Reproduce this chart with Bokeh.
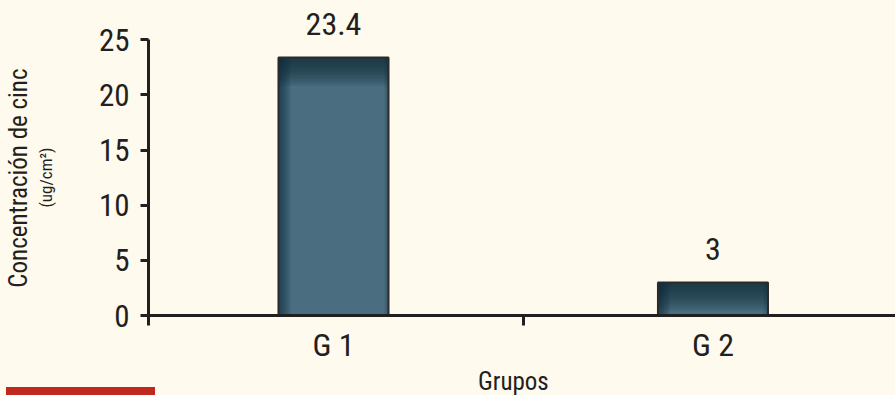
from bokeh.plotting import figure
from bokeh.models import Range1d, FixedTicker, LinearAxis
from bokeh.core.properties import value
from bokeh.embed import file_html
from bokeh.resources import INLINE

# ---- data ----
categories = ["G 1", "G 2"]
concentrations = [23.4, 3.0]
value_labels = ["23.4", "3"]
y_ticks = [0, 5, 10, 15, 20, 25]
y_title = "Concentración de cinc"
y_unit = "(ug/cm²)"
x_title = "Grupos"

FONT = "Roboto Condensed, DejaVu Sans Condensed, sans-serif"
BG = "#fefaee"
INK = "#231f20"
BAR = "#4a6e80"
SHADE = "#0e2a36"
RED = "#c1281d"
NBSP = "\u00a0"

n = len(categories)
centers = [i + 0.5 for i in range(n)]
x_start = 0.0125
x_end = 1.981
boundaries = [x_start] + [float(i) for i in range(1, n + 1)]

p = figure(frame_width=747, frame_height=315,
           x_range=Range1d(x_start, x_end), y_range=Range1d(0, 28.56),
           output_backend="svg", toolbar_location=None,
           min_border_left=148, min_border_top=0, min_border_right=0,
           min_border_bottom=80)
p.background_fill_color = BG
p.border_fill_color = None
p.outline_line_color = None
p.grid.visible = False
# page background with the red accent strip at the lower left
p.styles = {"background": f"linear-gradient({RED},{RED}) 6px 387px / 149px 8px no-repeat, {BG}"}

# ---- bars with a shaded look ----
bar_w = 0.29
p.vbar(x=centers, top=concentrations, bottom=0, width=bar_w,
       fill_color=BAR, line_color=None)
band = 2.6  # data units of top shading
N = 12
for k in range(N):
    bottoms = [max(0.0, v - band * (k + 1) / N) for v in concentrations]
    p.vbar(x=centers, top=concentrations, bottom=bottoms, width=bar_w,
           fill_color=SHADE, fill_alpha=0.11, line_color=None)
lb = 0.032
M = 8
for k in range(M):
    w = lb * (k + 1) / M
    xs = [c - bar_w / 2 + w / 2 for c in centers]
    p.vbar(x=xs, top=concentrations, bottom=0, width=w,
           fill_color=SHADE, fill_alpha=0.1, line_color=None)
rb = 0.012
for k in range(4):
    w = rb * (k + 1) / 4
    xs = [c + bar_w / 2 - w / 2 for c in centers]
    p.vbar(x=xs, top=concentrations, bottom=0, width=w,
           fill_color=SHADE, fill_alpha=0.08, line_color=None)
p.vbar(x=centers, top=concentrations, bottom=0, width=bar_w,
       fill_color=None, line_color="#2b2b2b", line_width=2)

p.text(x=centers, y=concentrations, text=value_labels,
       text_font=value(FONT), text_font_size="32px", text_color=INK,
       text_align="center", text_baseline="alphabetic", y_offset=-33)

# ---- x axis ----
xa = p.xaxis[0]
xa.ticker = FixedTicker(ticks=centers, minor_ticks=boundaries)
xa.major_label_overrides = {c: lab for c, lab in zip(centers, categories)}
xa.major_tick_line_color = None
xa.major_tick_out = 0
xa.major_tick_in = 0
xa.minor_tick_out = 10
xa.minor_tick_in = 0
xa.minor_tick_line_width = 3
xa.minor_tick_line_color = INK
xa.axis_line_width = 3
xa.axis_line_color = INK
xa.major_label_text_font = FONT
xa.major_label_text_font_size = "32px"
xa.major_label_text_color = INK
xa.major_label_standoff = 0
xa.axis_label = x_title + NBSP * 3
xa.axis_label_text_font = FONT
xa.axis_label_text_font_size = "25px"
xa.axis_label_text_font_style = "normal"
xa.axis_label_text_color = INK
xa.axis_label_standoff = 0

# ---- y axis ----
ya = p.yaxis[0]
ya.ticker = FixedTicker(ticks=y_ticks, minor_ticks=[])
ya.bounds = (y_ticks[0], y_ticks[-1])
ya.major_tick_out = 8
ya.major_tick_in = 0
ya.major_tick_line_width = 3
ya.major_tick_line_color = INK
ya.axis_line_width = 3
ya.axis_line_color = INK
ya.major_label_text_font = FONT
ya.major_label_text_font_size = "31px"
ya.major_label_text_color = INK
ya.major_label_standoff = 11
# trailing non-breaking spaces centre the titles on the 0-25 span
ya.axis_label = y_unit + NBSP * 10
ya.axis_label_text_font = FONT
ya.axis_label_text_font_size = "17px"
ya.axis_label_text_font_style = "normal"
ya.axis_label_text_color = INK
ya.axis_label_standoff = 40

outer = LinearAxis(ticker=FixedTicker(ticks=[], minor_ticks=[]),
                   axis_line_color=None, major_tick_out=0, major_tick_in=0,
                   minor_tick_out=0, minor_tick_in=0, major_label_standoff=0,
                   axis_label=y_title + NBSP * 7, axis_label_text_font=FONT,
                   axis_label_text_font_size="25px",
                   axis_label_text_font_style="normal",
                   axis_label_text_color=INK, axis_label_standoff=0)
p.add_layout(outer, "left")

open("out.html", "w").write(file_html(p, INLINE))
